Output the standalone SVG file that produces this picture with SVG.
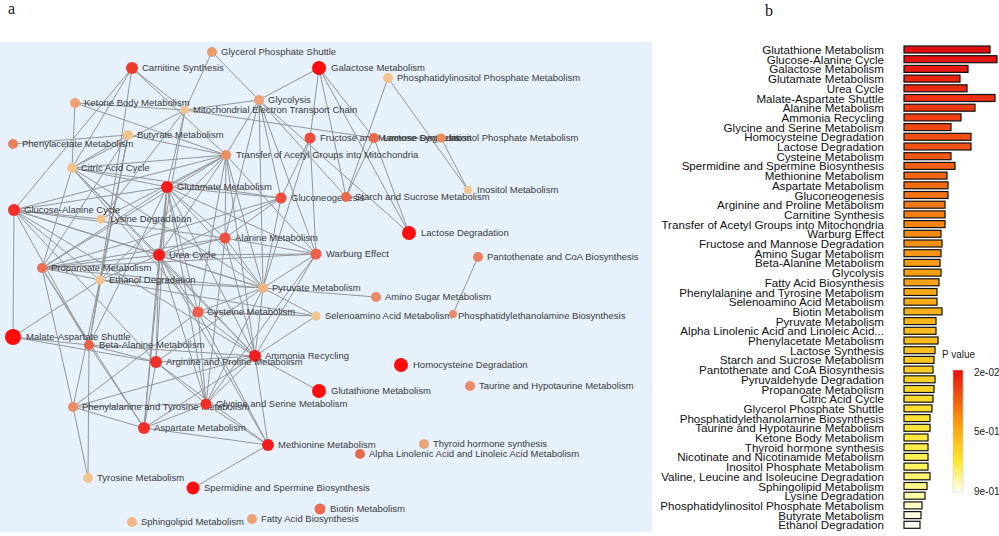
<svg xmlns="http://www.w3.org/2000/svg" width="999" height="536" viewBox="0 0 999 536">
<style>
.n{stroke:none}
.l{font-family:"Liberation Sans",Arial,sans-serif;font-size:9.5px;fill:#3a3a3a}
.e{stroke:#8c8c8c;stroke-width:1;fill:none;opacity:0.9}
.b{font-family:"Liberation Sans",Arial,sans-serif;font-size:11.6px;fill:#111;text-anchor:end}
.bar{stroke:#111;stroke-width:1.2}
.p{font-family:"Liberation Serif","Times New Roman",serif;font-size:16px;fill:#111}
.g{font-family:"Liberation Sans",Arial,sans-serif;font-size:10px;fill:#222}
</style>
<defs>
<linearGradient id="pv" x1="0" y1="0" x2="0" y2="1">
<stop offset="0" stop-color="#e81010"/><stop offset="0.45" stop-color="#f8a010"/><stop offset="0.75" stop-color="#fce830"/><stop offset="1" stop-color="#fffff0"/>
</linearGradient>
</defs>
<rect width="999" height="536" fill="#fff"/>
<rect x="0" y="42" width="652" height="490" fill="#e6f1fc"/>
<text class="p" x="8" y="14">a</text>
<text class="p" x="765" y="16">b</text>
<g id="connectors" class="e">
<path d="M132,68L185,110M132,68L226,155M132,68L72,168M132,68L14,210M132,68L100,280M212,52L185,110M212,52L259,100M259,100L346,197M319,68L259,100M319,68L310,138M319,68L346,197M319,68L409,233M319,68L374,138M388,78L346,197M388,78L468,190M75,103L72,168M75,103L226,155M75,103L185,110M185,110L259,100M185,110L374,138M185,110L72,168M185,110L167,187M185,110L101,219M185,110L159,255M259,100L226,155M259,100L281,198M259,100L316,254M259,100L225,238M259,100L409,233M259,100L263,288M128,135L13,144M128,135L72,168M128,135L226,155M128,135L42,268M128,135L100,280M128,135L89,345M310,138L281,198M310,138L316,254M310,138L263,288M374,138L346,197M374,138L409,233M374,138L441,138M441,138L468,190"/>
<path d="M226,155L72,168M226,155L167,187M226,155L14,210M226,155L101,219M226,155L159,255M226,155L225,238M226,155L263,288M226,155L316,254M226,155L42,268M226,155L100,280M226,155L198,312M226,155L255,356M72,168L167,187M72,168L159,255M72,168L281,198M72,168L263,288M72,168L42,268M72,168L255,356M72,168L198,312M167,187L281,198M167,187L14,210M167,187L159,255M167,187L225,238M167,187L316,254M167,187L255,356M167,187L156,362M167,187L42,268M167,187L198,312M167,187L206,404M167,187L144,428M167,187L263,288M167,187L89,345M281,198L225,238M281,198L263,288M281,198L159,255M281,198L42,268"/>
<path d="M14,210L13,337M14,210L101,219M14,210L159,255M14,210L225,238M14,210L263,288M14,210L89,345M14,210L100,280M14,210L255,356M14,210L156,362M225,238L316,254M225,238L159,255M225,238L263,288M225,238L42,268M225,238L206,404M225,238L255,356M159,255L316,254M159,255L42,268M159,255L255,356M159,255L156,362M159,255L144,428M159,255L263,288M159,255L198,312M159,255L206,404M159,255L268,445M159,255L100,280M316,254L263,288M316,254L255,356M316,254L206,404M316,254L42,268M42,268L89,345M42,268L263,288M42,268L100,280M42,268L144,428M42,268L73,407M478,257L453,314M100,280L13,337M100,280L263,288M100,280L89,345M100,280L316,316M100,280L73,407"/>
<path d="M263,288L376,297M263,288L198,312M263,288L255,356M263,288L316,316M263,288L156,362M263,288L206,404M198,312L316,316M198,312L255,356M198,312L206,404M198,312L73,407M198,312L268,445M316,316L255,356M13,337L89,345M13,337L156,362M89,345L156,362M89,345L255,356M89,345L144,428M89,345L88,478M255,356L156,362M255,356L319,391M255,356L206,404M255,356L268,445M255,356L144,428M255,356L73,407M156,362L206,404M156,362L144,428M156,362L268,445M73,407L144,428M73,407L88,478M73,407L206,404M206,404L268,445M206,404L144,428M144,428L268,445M268,445L193,488"/>
</g>
<g id="n-gps"><circle class="n" cx="212" cy="52" r="5" fill="#eb9a6c"/><text class="l" x="221" y="55">Glycerol Phosphate Shuttle</text></g>
<g id="n-car"><circle class="n" cx="132" cy="68" r="6" fill="#f03a2c"/><text class="l" x="142" y="71">Carnitine Synthesis</text></g>
<g id="n-gal"><circle class="n" cx="319" cy="68" r="7" fill="#ff0c0c"/><text class="l" x="331" y="71">Galactose Metabolism</text></g>
<g id="n-pip"><circle class="n" cx="388" cy="78" r="5" fill="#f2c48c"/><text class="l" x="397" y="81">Phosphatidylinositol Phosphate Metabolism</text></g>
<g id="n-ket"><circle class="n" cx="75" cy="103" r="5" fill="#eda274"/><text class="l" x="84" y="106">Ketone Body Metabolism</text></g>
<g id="n-gly"><circle class="n" cx="259" cy="100" r="5" fill="#eda274"/><text class="l" x="268" y="103">Glycolysis</text></g>
<g id="n-mit"><circle class="n" cx="185" cy="110" r="4" fill="#f2c48c"/><text class="l" x="193" y="113">Mitochondrial Electron Transport Chain</text></g>
<g id="n-but"><circle class="n" cx="128" cy="135" r="5" fill="#f2c48c"/><text class="l" x="137" y="138">Butyrate Metabolism</text></g>
<g id="n-pha"><circle class="n" cx="13" cy="144" r="5" fill="#e9825e"/><text class="l" x="22" y="147">Phenylacetate Metabolism</text></g>
<g id="n-fru"><circle class="n" cx="310" cy="138" r="5.5" fill="#f04c3c"/><text class="l" x="320" y="141">Fructose and Mannose Degradation</text></g>
<g id="n-lsy"><circle class="n" cx="374" cy="138" r="5" fill="#ec6a4c"/><text class="l" x="383" y="141">Lactose Synthesis</text></g>
<g id="n-ipm"><circle class="n" cx="441" cy="138" r="4.5" fill="#ef8c5c"/><text class="l" x="449" y="141">Inositol Phosphate Metabolism</text></g>
<g id="n-tra"><circle class="n" cx="226" cy="155" r="5" fill="#ef8c60"/><text class="l" x="236" y="158">Transfer of Acetyl Groups into Mitochondria</text></g>
<g id="n-cit"><circle class="n" cx="72" cy="168" r="5" fill="#f2c48c"/><text class="l" x="81" y="171">Citric Acid Cycle</text></g>
<g id="n-glu"><circle class="n" cx="167" cy="187" r="6" fill="#f21c1c"/><text class="l" x="177" y="190">Glutamate Metabolism</text></g>
<g id="n-gng"><circle class="n" cx="281" cy="198" r="5.5" fill="#f04c3c"/><text class="l" x="291" y="201">Gluconeogenesis</text></g>
<g id="n-sta"><circle class="n" cx="346" cy="197" r="5" fill="#ec6a4c"/><text class="l" x="355" y="200">Starch and Sucrose Metabolism</text></g>
<g id="n-ino"><circle class="n" cx="468" cy="190" r="4" fill="#f2c48c"/><text class="l" x="477" y="193">Inositol Metabolism</text></g>
<g id="n-gac"><circle class="n" cx="14" cy="210" r="6" fill="#f0302a"/><text class="l" x="24" y="213">Glucose-Alanine Cycle</text></g>
<g id="n-lys"><circle class="n" cx="101" cy="219" r="4.5" fill="#f2c48c"/><text class="l" x="110" y="222">Lysine Degradation</text></g>
<g id="n-ala"><circle class="n" cx="225" cy="238" r="5.5" fill="#f05040"/><text class="l" x="235" y="241">Alanine Metabolism</text></g>
<g id="n-lde"><circle class="n" cx="409" cy="233" r="7" fill="#ff0c0c"/><text class="l" x="421" y="236">Lactose Degradation</text></g>
<g id="n-ure"><circle class="n" cx="159" cy="255" r="6" fill="#f21c1c"/><text class="l" x="169" y="258">Urea Cycle</text></g>
<g id="n-war"><circle class="n" cx="316" cy="254" r="5.5" fill="#f06048"/><text class="l" x="326" y="257">Warburg Effect</text></g>
<g id="n-pro"><circle class="n" cx="42" cy="268" r="5" fill="#ee7050"/><text class="l" x="51" y="271">Propanoate Metabolism</text></g>
<g id="n-pan"><circle class="n" cx="478" cy="257" r="5" fill="#e9825e"/><text class="l" x="487" y="260">Pantothenate and CoA Biosynthesis</text></g>
<g id="n-eth"><circle class="n" cx="100" cy="280" r="4.5" fill="#f2c48c"/><text class="l" x="109" y="283">Ethanol Degradation</text></g>
<g id="n-pyr"><circle class="n" cx="263" cy="288" r="5" fill="#f0b480"/><text class="l" x="272" y="291">Pyruvate Metabolism</text></g>
<g id="n-ams"><circle class="n" cx="376" cy="297" r="5" fill="#ea8c68"/><text class="l" x="385" y="300">Amino Sugar Metabolism</text></g>
<g id="n-cys"><circle class="n" cx="198" cy="312" r="5.5" fill="#f06048"/><text class="l" x="207" y="315">Cysteine Metabolism</text></g>
<g id="n-sel"><circle class="n" cx="316" cy="316" r="4.5" fill="#f2c48c"/><text class="l" x="325" y="319">Selenoamino Acid Metabolism</text></g>
<g id="n-peb"><circle class="n" cx="453" cy="314" r="4" fill="#ea8c68"/><text class="l" x="458" y="319">Phosphatidylethanolamine Biosynthesis</text></g>
<g id="n-mal"><circle class="n" cx="13" cy="337" r="8" fill="#ff0c0c"/><text class="l" x="26" y="340">Malate-Aspartate Shuttle</text></g>
<g id="n-bet"><circle class="n" cx="89" cy="345" r="5" fill="#f06048"/><text class="l" x="99" y="348">Beta-Alanine Metabolism</text></g>
<g id="n-amm"><circle class="n" cx="255" cy="356" r="6" fill="#f21c1c"/><text class="l" x="265" y="359">Ammonia Recycling</text></g>
<g id="n-arg"><circle class="n" cx="156" cy="362" r="6" fill="#f0302a"/><text class="l" x="166" y="365">Arginine and Proline Metabolism</text></g>
<g id="n-hom"><circle class="n" cx="401" cy="365" r="7" fill="#ff0c0c"/><text class="l" x="413" y="368">Homocysteine Degradation</text></g>
<g id="n-gsh"><circle class="n" cx="319" cy="391" r="7" fill="#ff0c0c"/><text class="l" x="331" y="394">Glutathione Metabolism</text></g>
<g id="n-tau"><circle class="n" cx="470" cy="386" r="5" fill="#ea8c68"/><text class="l" x="479" y="389">Taurine and Hypotaurine Metabolism</text></g>
<g id="n-phe"><circle class="n" cx="73" cy="407" r="5" fill="#ea8c68"/><text class="l" x="82" y="410">Phenylalanine and Tyrosine Metabolism</text></g>
<g id="n-gls"><circle class="n" cx="206" cy="404" r="5.5" fill="#f0302a"/><text class="l" x="216" y="407">Glycine and Serine Metabolism</text></g>
<g id="n-asp"><circle class="n" cx="144" cy="428" r="6" fill="#f0302a"/><text class="l" x="154" y="431">Aspartate Metabolism</text></g>
<g id="n-met"><circle class="n" cx="268" cy="445" r="6" fill="#f21c1c"/><text class="l" x="278" y="448">Methionine Metabolism</text></g>
<g id="n-thy"><circle class="n" cx="424" cy="444" r="5" fill="#eba478"/><text class="l" x="433" y="447">Thyroid hormone synthesis</text></g>
<g id="n-alp"><circle class="n" cx="360" cy="454" r="5" fill="#ec6a4c"/><text class="l" x="369" y="457">Alpha Linolenic Acid and Linoleic Acid Metabolism</text></g>
<g id="n-tyr"><circle class="n" cx="88" cy="478" r="5" fill="#f2c48c"/><text class="l" x="97" y="481">Tyrosine Metabolism</text></g>
<g id="n-spe"><circle class="n" cx="193" cy="488" r="6.5" fill="#ff0c0c"/><text class="l" x="204" y="491">Spermidine and Spermine Biosynthesis</text></g>
<g id="n-bio"><circle class="n" cx="320" cy="509" r="5.5" fill="#ec6a4c"/><text class="l" x="330" y="512">Biotin Metabolism</text></g>
<g id="n-sph"><circle class="n" cx="132" cy="522" r="5" fill="#f0b888"/><text class="l" x="141" y="525">Sphingolipid Metabolism</text></g>
<g id="n-fab"><circle class="n" cx="252" cy="519" r="5" fill="#eda274"/><text class="l" x="261" y="522">Fatty Acid Biosynthesis</text></g>
<g id="barchart">
<rect class="bar" x="904" y="46" width="86" height="7" fill="#e01010"/><text class="b" x="884" y="54">Glutathione Metabolism</text>
<rect class="bar" x="904" y="55.7" width="93" height="7" fill="#e41410"/><text class="b" x="884" y="63.7">Glucose-Alanine Cycle</text>
<rect class="bar" x="904" y="65.4" width="64" height="7" fill="#e61c10"/><text class="b" x="884" y="73.4">Galactose Metabolism</text>
<rect class="bar" x="904" y="75.1" width="56" height="7" fill="#e82410"/><text class="b" x="884" y="83.1">Glutamate Metabolism</text>
<rect class="bar" x="904" y="84.8" width="63" height="7" fill="#ea2a10"/><text class="b" x="884" y="92.8">Urea Cycle</text>
<rect class="bar" x="904" y="94.5" width="91" height="7" fill="#ec3010"/><text class="b" x="884" y="102.5">Malate-Aspartate Shuttle</text>
<rect class="bar" x="904" y="104.2" width="71" height="7" fill="#ee3812"/><text class="b" x="884" y="112.2">Alanine Metabolism</text>
<rect class="bar" x="904" y="113.9" width="57" height="7" fill="#ef4014"/><text class="b" x="884" y="121.9">Ammonia Recycling</text>
<rect class="bar" x="904" y="123.6" width="47" height="7" fill="#f04814"/><text class="b" x="884" y="131.6">Glycine and Serine Metabolism</text>
<rect class="bar" x="904" y="133.3" width="67" height="7" fill="#f04e14"/><text class="b" x="884" y="141.3">Homocysteine Degradation</text>
<rect class="bar" x="904" y="143" width="67" height="7" fill="#f05414"/><text class="b" x="884" y="151">Lactose Degradation</text>
<rect class="bar" x="904" y="152.7" width="47" height="7" fill="#f05a14"/><text class="b" x="884" y="160.7">Cysteine Metabolism</text>
<rect class="bar" x="904" y="162.4" width="51" height="7" fill="#f16014"/><text class="b" x="884" y="170.4">Spermidine and Spermine Biosynthesis</text>
<rect class="bar" x="904" y="172.1" width="43" height="7" fill="#f26614"/><text class="b" x="884" y="180.1">Methionine Metabolism</text>
<rect class="bar" x="904" y="181.8" width="44" height="7" fill="#f26c14"/><text class="b" x="884" y="189.8">Aspartate Metabolism</text>
<rect class="bar" x="904" y="191.5" width="44" height="7" fill="#f37214"/><text class="b" x="884" y="199.5">Gluconeogenesis</text>
<rect class="bar" x="904" y="201.2" width="41" height="7" fill="#f47814"/><text class="b" x="884" y="209.2">Arginine and Proline Metabolism</text>
<rect class="bar" x="904" y="210.9" width="41" height="7" fill="#f47e14"/><text class="b" x="884" y="218.9">Carnitine Synthesis</text>
<rect class="bar" x="904" y="220.6" width="41" height="7" fill="#f58414"/><text class="b" x="884" y="228.6">Transfer of Acetyl Groups into Mitochondria</text>
<rect class="bar" x="904" y="230.3" width="37" height="7" fill="#f58a14"/><text class="b" x="884" y="238.3">Warburg Effect</text>
<rect class="bar" x="904" y="240" width="38" height="7" fill="#f69014"/><text class="b" x="884" y="248">Fructose and Mannose Degradation</text>
<rect class="bar" x="904" y="249.7" width="37" height="7" fill="#f69614"/><text class="b" x="884" y="257.7">Amino Sugar Metabolism</text>
<rect class="bar" x="904" y="259.4" width="36" height="7" fill="#f79c14"/><text class="b" x="884" y="267.4">Beta-Alanine Metabolism</text>
<rect class="bar" x="904" y="269.1" width="37" height="7" fill="#f7a014"/><text class="b" x="884" y="277.1">Glycolysis</text>
<rect class="bar" x="904" y="278.8" width="35" height="7" fill="#f8a414"/><text class="b" x="884" y="286.8">Fatty Acid Biosynthesis</text>
<rect class="bar" x="904" y="288.5" width="33" height="7" fill="#f8a818"/><text class="b" x="884" y="296.5">Phenylalanine and Tyrosine Metabolism</text>
<rect class="bar" x="904" y="298.2" width="33" height="7" fill="#f8ac18"/><text class="b" x="884" y="306.2">Selenoamino Acid Metabolism</text>
<rect class="bar" x="904" y="307.9" width="38" height="7" fill="#f9b01a"/><text class="b" x="884" y="315.9">Biotin Metabolism</text>
<rect class="bar" x="904" y="317.6" width="32" height="7" fill="#f9b41c"/><text class="b" x="884" y="325.6">Pyruvate Metabolism</text>
<rect class="bar" x="904" y="327.3" width="32" height="7" fill="#f9b81e"/><text class="b" x="884" y="335.3">Alpha Linolenic Acid and Linoleic Acid...</text>
<rect class="bar" x="904" y="337" width="34" height="7" fill="#fabc20"/><text class="b" x="884" y="345">Phenylacetate Metabolism</text>
<rect class="bar" x="904" y="346.7" width="31" height="7" fill="#fac022"/><text class="b" x="884" y="354.7">Lactose Synthesis</text>
<rect class="bar" x="904" y="356.4" width="30" height="7" fill="#fac824"/><text class="b" x="884" y="364.4">Starch and Sucrose Metabolism</text>
<rect class="bar" x="904" y="366.1" width="29" height="7" fill="#fbcc26"/><text class="b" x="884" y="374.1">Pantothenate and CoA Biosynthesis</text>
<rect class="bar" x="904" y="375.8" width="31" height="7" fill="#fbd028"/><text class="b" x="884" y="383.8">Pyruvaldehyde Degradation</text>
<rect class="bar" x="904" y="385.5" width="30" height="7" fill="#fbd42a"/><text class="b" x="884" y="393.5">Propanoate Metabolism</text>
<rect class="bar" x="904" y="395.2" width="29" height="7" fill="#fcd82c"/><text class="b" x="884" y="403.2">Citric Acid Cycle</text>
<rect class="bar" x="904" y="404.9" width="28" height="7" fill="#fcdc30"/><text class="b" x="884" y="412.9">Glycerol Phosphate Shuttle</text>
<rect class="bar" x="904" y="414.6" width="26" height="7" fill="#fce034"/><text class="b" x="884" y="422.6">Phosphatidylethanolamine Biosynthesis</text>
<rect class="bar" x="904" y="424.3" width="26" height="7" fill="#fde438"/><text class="b" x="884" y="432.3">Taurine and Hypotaurine Metabolism</text>
<rect class="bar" x="904" y="434" width="24" height="7" fill="#fde840"/><text class="b" x="884" y="442">Ketone Body Metabolism</text>
<rect class="bar" x="904" y="443.7" width="24" height="7" fill="#fdec48"/><text class="b" x="884" y="451.7">Thyroid hormone synthesis</text>
<rect class="bar" x="904" y="453.4" width="24" height="7" fill="#fef050"/><text class="b" x="884" y="461.4">Nicotinate and Nicotinamide Metabolism</text>
<rect class="bar" x="904" y="463.1" width="24" height="7" fill="#fef460"/><text class="b" x="884" y="471.1">Inositol Phosphate Metabolism</text>
<rect class="bar" x="904" y="472.8" width="26" height="7" fill="#fef670"/><text class="b" x="884" y="480.8">Valine, Leucine and Isoleucine Degradation</text>
<rect class="bar" x="904" y="482.5" width="23" height="7" fill="#fff888"/><text class="b" x="884" y="490.5">Sphingolipid Metabolism</text>
<rect class="bar" x="904" y="492.2" width="21" height="7" fill="#fffaa8"/><text class="b" x="884" y="500.2">Lysine Degradation</text>
<rect class="bar" x="904" y="501.9" width="18" height="7" fill="#fffcc8"/><text class="b" x="884" y="509.9">Phosphatidylinositol Phosphate Metabolism</text>
<rect class="bar" x="904" y="511.6" width="17" height="7" fill="#fffde0"/><text class="b" x="884" y="519.6">Butyrate Metabolism</text>
<rect class="bar" x="904" y="521.3" width="16" height="7" fill="#fffff0"/><text class="b" x="884" y="529.3">Ethanol Degradation</text>
</g>
<g id="legend">
<text class="g" x="942" y="358">P value</text>
<rect x="953" y="370" width="10" height="122" fill="url(#pv)" stroke="#ccc" stroke-width="0.5"/>
<text class="g" x="974" y="376">2e-02</text>
<text class="g" x="974" y="435">5e-01</text>
<text class="g" x="974" y="495">9e-01</text>
</g>
</svg>
